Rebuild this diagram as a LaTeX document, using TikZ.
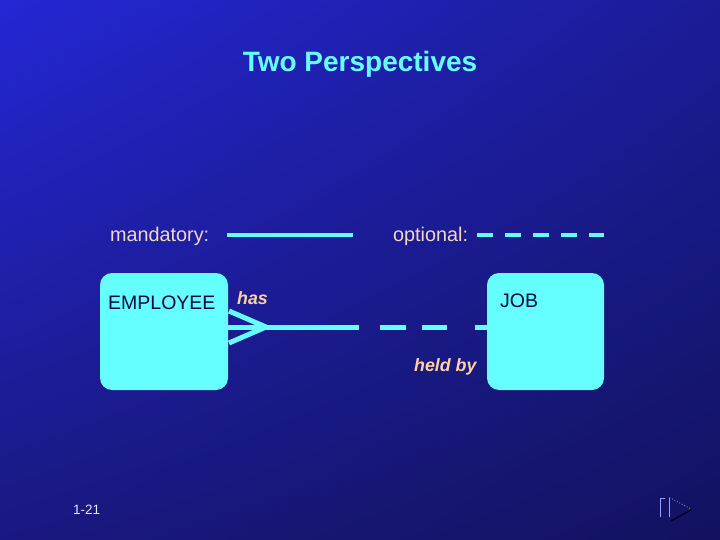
\documentclass[tikz,border=0pt]{standalone}
\usepackage{fontspec}
\usetikzlibrary{shadings}
\setmainfont{Liberation Sans}
\definecolor{cyanbox}{HTML}{66FFFF}
\definecolor{peach}{HTML}{F2D6C4}
\definecolor{lblpeach}{HTML}{FFD0A0}
\definecolor{navytext}{HTML}{0A0A40}
\definecolor{bgUL}{HTML}{2427D4}
\definecolor{bgUR}{HTML}{1B1C96}
\definecolor{bgLL}{HTML}{1A1880}
\definecolor{bgLR}{HTML}{121260}
\definecolor{navlight}{HTML}{8FA0FF}
\tikzset{
  entity/.style={fill=cyanbox, rounded corners=12pt, minimum width=128pt, minimum height=117pt, inner sep=0pt},
  enttext/.style={text=navytext, font=\fontsize{19.5}{22}\selectfont, inner sep=0pt, anchor=west},
  legend/.style={text=peach, font=\fontsize{19.8}{22}\selectfont, inner sep=0pt, anchor=west},
  rellabel/.style={text=lblpeach, font=\fontsize{17.8}{20}\selectfont\bfseries\itshape, inner sep=0pt, anchor=west},
  relline/.style={draw=cyanbox, line width=5pt},
  legline/.style={draw=cyanbox, line width=4pt},
}
\begin{document}
\begin{tikzpicture}[x=1pt,y=-1pt]
\useasboundingbox (0,0) rectangle (720,540);
\shade[upper left=bgUL, upper right=bgUR, lower left=bgLL, lower right=bgLR] (0,0) rectangle (720,540);

% title
\node[text=cyanbox, font=\fontsize{28}{32}\selectfont\bfseries] (title) at (360,64) {Two Perspectives};

% legend
\node[legend] (mand) at (110,236) {mandatory:};
\coordinate (m1) at (227,235);
\coordinate (m2) at (353,235);
\draw[legline] (m1) -- (m2);
\node[legend] (opt) at (393,236) {optional:};
\coordinate (o1) at (477,235);
\coordinate (o2) at (604,235);
\draw[legline, dash pattern=on 16pt off 12pt] (o1) -- (o2);

% entities
\node[entity, minimum width=128pt] (emp) at (164,331.5) {};
\node[enttext] (emptext) at (108,303) {EMPLOYEE};
\node[entity, minimum width=117pt] (job) at (545.5,331.5) {};
\node[enttext] (jobtext) at (500,301) {JOB};

% relationship
\coordinate (ea) at (emp.east |- 0,327);
\coordinate (ja) at (job.west |- 0,327);
\coordinate (mid) at (359,327);
\coordinate (foot) at (266,327);
\coordinate (fu) at (229,311);
\coordinate (fd) at (229,343);
\draw[relline] (ea) -- (mid);
\draw[relline] (fu) -- (foot) -- (fd);
\draw[relline, dash pattern=on 0pt off 21pt on 26pt off 16pt on 25pt off 28pt on 40pt] (mid) -- (ja);
\node[rellabel] (has) at (237,298) {has};
\node[rellabel] (heldby) at (414,367) {held by};

% slide number
\node[text=white!90!blue, font=\fontsize{13.5}{15}\selectfont, inner sep=0pt, anchor=west] (num) at (73,510) {1-21};

% navigation icon
\coordinate (b1) at (664.5,498);
\coordinate (b2) at (660.5,498);
\coordinate (b3) at (660.5,517);
\draw[navlight, line width=0.8pt] (b1) -- (b2) -- (b3);
\coordinate (t0) at (669.5,517);
\coordinate (t1) at (669.5,497.5);
\coordinate (t2) at (692,509.5);
\coordinate (t3) at (671,521);
\draw[navlight, line width=0.8pt] (t0) -- (t1);
\draw[navlight, line width=0.8pt, dotted] (t1) -- (t2);
\draw[black, line width=1pt] (t2) -- (t3);
\end{tikzpicture}
\end{document}
